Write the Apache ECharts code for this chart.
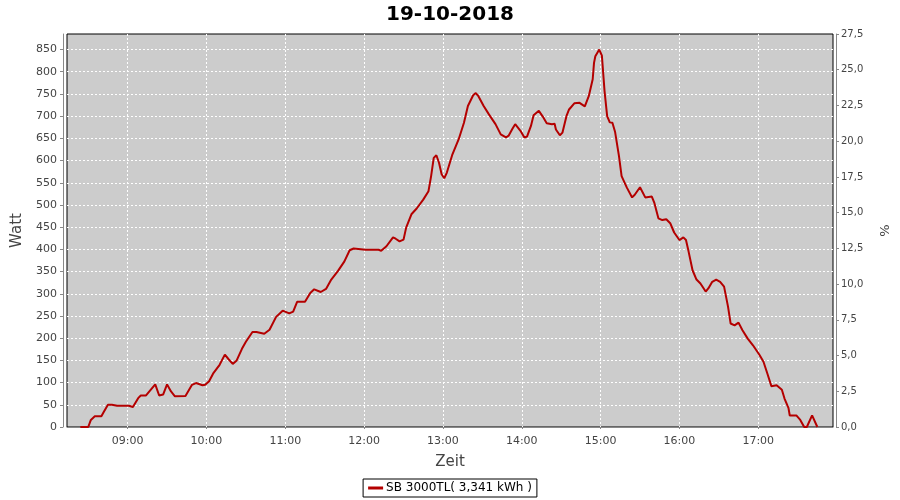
<!DOCTYPE html>
<html><head><meta charset="utf-8">
<script src="https://cdn.jsdelivr.net/npm/echarts@6/dist/echarts.min.js"></script>
<style>html,body{margin:0;padding:0;background:#fff}#c{width:900px;height:500px}</style>
</head><body><div id="c"></div>
<script>
const day = '2018-10-19';
const titleText = '19-10-2018';
const seriesName = 'SB 3000TL( 3,341 kWh )';
const times = ['08:24','08:30','08:32','08:35','08:40','08:42','08:45','08:48','08:52','09:01','09:04','09:08','09:10','09:14','09:21','09:24','09:27','09:30','09:33','09:36','09:44','09:49','09:52','09:57','09:59','10:02','10:05','10:10','10:14','10:15','10:17','10:20','10:23','10:27','10:30','10:35','10:38','10:44','10:48','10:53','10:58','11:03','11:06','11:09','11:15','11:19','11:22','11:27','11:31','11:35','11:40','11:45','11:49','11:52','12:01','12:11','12:13','12:17','12:22','12:24','12:27','12:30','12:32','12:36','12:40','12:45','12:49','12:51','12:53','12:55','12:57','12:59','13:01','13:03','13:07','13:12','13:16','13:19','13:23','13:25','13:27','13:31','13:35','13:40','13:44','13:48','13:50','13:53','13:55','13:59','14:02','14:04','14:07','14:09','14:13','14:16','14:19','14:23','14:25','14:26','14:29','14:31','14:34','14:36','14:40','14:44','14:48','14:51','14:54','14:55','14:56','14:59','15:01','15:03','15:05','15:07','15:09','15:11','15:14','15:16','15:20','15:24','15:26','15:30','15:34','15:39','15:41','15:44','15:47','15:50','15:53','15:56','16:00','16:03','16:05','16:07','16:10','16:13','16:16','16:20','16:22','16:25','16:28','16:31','16:34','16:37','16:39','16:42','16:45','16:48','16:52','16:56','17:01','17:04','17:07','17:10','17:14','17:18','17:20','17:23','17:24','17:29','17:32','17:35','17:37','17:41','17:45'];
const watts = [0,0,16,24,24,35,50,50,48,48,45,65,71,71,96,71,73,96,80,69,70,95,99,94,95,103,120,140,163,166,152,142,150,176,192,214,214,210,219,248,262,256,260,282,282,302,310,304,311,332,351,373,398,402,399,399,397,407,427,424,418,422,449,479,492,512,531,565,606,612,595,569,560,573,612,648,685,723,747,752,745,723,704,682,659,652,656,672,682,667,652,654,678,702,712,699,684,682,683,670,657,663,700,715,729,730,722,745,783,820,835,850,836,757,700,686,685,665,610,565,539,517,523,540,517,519,504,470,466,468,459,438,421,427,421,395,353,332,323,305,312,327,332,327,316,271,233,229,235,218,199,184,162,147,120,92,94,84,64,43,26,26,16,0,0,26,0];
const xMin = '08:13:50';
const xMax = '17:56:55';
const wattMax = 885, wattStep = 50;
const pctMax = 27.5, pctStep = 2.5;

const data = times.map((t, i) => [day + ' ' + t, watts[i]]);
const labelColor = '#444';
const axisGray = '#888';
const font = 'DejaVu Sans';
const gridLine = {show: true, showMinLine: false, showMaxLine: false, lineStyle: {color: '#fff', type: [2, 2], width: 1}};

const chart = echarts.init(document.getElementById('c'), null, {renderer: 'canvas'});
chart.setOption({
  animation: false,
  backgroundColor: '#fff',
  title: {
    text: titleText, left: 'center', top: 0,
    textStyle: {fontFamily: font, fontWeight: 'bold', fontSize: 20, color: '#000'}
  },
  grid: {left: 67, right: 51, top: 34, bottom: 73, show: true, backgroundColor: '#cccccc', borderColor: '#000', borderWidth: 1},
  legend: {
    bottom: 3, left: 'center',
    padding: [3, 5], itemGap: 0, itemWidth: 15, itemHeight: 3,
    borderColor: '#000', borderWidth: 1,
    textStyle: {fontFamily: font, fontSize: 12, color: '#000', padding: [0, 0, 0, -2]},
    data: [{name: seriesName, icon: 'rect'}]
  },
  xAxis: {
    type: 'time',
    min: day + ' ' + xMin, max: day + ' ' + xMax,
    minInterval: 3600 * 1000, maxInterval: 3600 * 1000,
    offset: 3,
    name: 'Zeit', nameLocation: 'middle', nameGap: 25,
    nameTextStyle: {fontFamily: font, fontSize: 15, color: labelColor},
    axisLine: {show: true, lineStyle: {color: axisGray, width: 1}},
    axisTick: {show: true, length: 2, lineStyle: {color: axisGray}},
    axisLabel: {fontFamily: font, fontSize: 11, color: labelColor, margin: 6, formatter: '{HH}:{mm}', showMinLabel: false, showMaxLabel: false, fontWeight: 'normal'},
    splitLine: gridLine
  },
  yAxis: [{
    type: 'value', min: 0, max: wattMax, interval: wattStep,
    position: 'left', offset: 4,
    name: 'Watt', nameLocation: 'middle', nameGap: 31, nameRotate: 90,
    nameTextStyle: {fontFamily: font, fontSize: 15, color: labelColor},
    axisLine: {show: true, lineStyle: {color: axisGray}},
    axisTick: {show: true, length: 3, lineStyle: {color: axisGray}},
    axisLabel: {fontFamily: font, fontSize: 11, color: labelColor, margin: 6, showMaxLabel: false},
    splitLine: gridLine
  }, {
    type: 'value', min: 0, max: pctMax, interval: pctStep,
    position: 'right', offset: 3,
    name: '%', nameLocation: 'middle', nameGap: 43, nameRotate: 90,
    nameTextStyle: {fontFamily: font, fontSize: 13, color: labelColor},
    axisLine: {show: true, lineStyle: {color: axisGray}},
    axisTick: {show: true, length: 3, lineStyle: {color: axisGray}},
    axisLabel: {fontFamily: font, fontSize: 10, color: labelColor, margin: 5, formatter: v => v.toFixed(1).replace('.', ',')},
    splitLine: {show: false}
  }],
  series: [{
    name: seriesName, type: 'line', yAxisIndex: 0,
    data: data, showSymbol: false, symbol: 'none',
    lineStyle: {color: '#b40000', width: 2},
    itemStyle: {color: '#b40000'}
  }]
});
</script>
</body></html>
